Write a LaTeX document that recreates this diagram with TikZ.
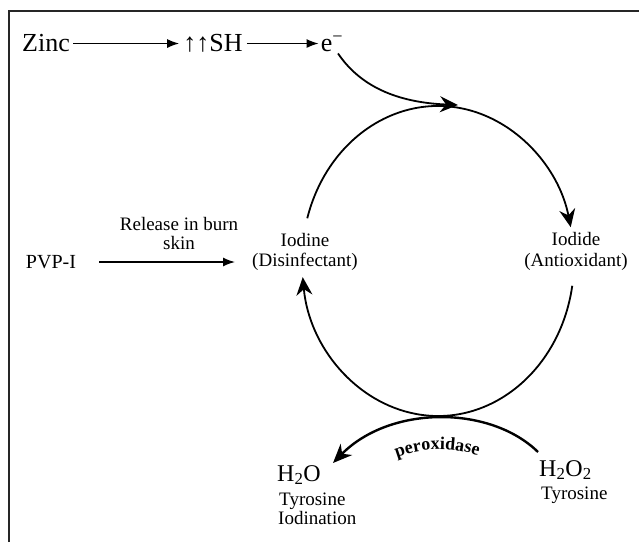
\documentclass[tikz,border=0pt]{standalone}
\usepackage{fontspec}
\setmainfont{Liberation Serif}
\usetikzlibrary{arrows.meta,decorations.text}
\begin{document}
\begin{tikzpicture}[x=1pt,y=1pt,
  lbl/.style={inner sep=1pt, font=\fontsize{19}{21}\selectfont, align=center},
  big/.style={inner sep=1pt, font=\fontsize{26}{28}\selectfont, anchor=base},
  chem/.style={inner sep=0pt, font=\fontsize{24}{26}\selectfont, anchor=base west},
  thinarr/.style={line width=1.5pt, -{Latex[length=12pt,width=9pt]}},
  cyc/.style={line width=1.8pt, -{Stealth[length=18pt,width=16pt,inset=6pt]}},
  perox/.style={line width=2.4pt, -{Stealth[length=19pt,width=16pt,inset=6pt]}},
]
\useasboundingbox (0,0) rectangle (639,542);
\draw[line width=1.6pt, black!85] (9,0) -- (9,531) -- (639,531);

% top row
\node[big] (zinc) at (46,490) {Zinc};
\node[big] (sh) at (213,490) {↑↑SH};
\node[big] (e) at (332,490) {e\textsuperscript{−}};
\draw[thinarr, shorten <=2pt, shorten >=3pt] (zinc.east) -- (zinc.east -| sh.west);
\draw[thinarr, shorten <=3pt, shorten >=1pt] (sh.east |- zinc.east) -- (zinc.east -| e.west);

% middle row
\node[lbl, font=\fontsize{20}{21}\selectfont] (pvp) at (51,280) {PVP-I};
\node[lbl, font=\fontsize{19}{19}\selectfont] (rel) at (179,308.5) {Release in burn\\skin};
\node[lbl, font=\fontsize{19}{20}\selectfont] (iodine) at (305,290) {Iodine\\(Disinfectant)};
\node[lbl] (iodide) at (576,291) {Iodide\\(Antioxidant)};
\draw[thinarr, shorten <=22pt, shorten >=16pt] (pvp.east) -- (pvp.east -| iodine.west);

% cycle
\coordinate (c) at (438,281);
\coordinate (top) at (458,437);
\draw[cyc] ([shift={(164:136 and 155)}]c) arc[start angle=164, end angle=12.6, x radius=136, y radius=155];
\draw[cyc] ([shift={(-9.2:136 and 155)}]c) arc[start angle=-9.2, end angle=-174, x radius=136, y radius=155];
\draw[cyc] ([xshift=6pt]e.south) .. controls +(27,-40) and +(-48,2) .. (top);

% bottom
\node[chem] (h2o) at (277,61) {H\textsubscript{2}O};
\node[lbl, anchor=base west, inner sep=0pt] (tyr1) at (279,37) {Tyrosine};
\node[lbl, anchor=base west, inner sep=0pt] (iodn) at (278,18) {Iodination};
\node[chem] (h2o2) at (539,66) {H\textsubscript{2}O\textsubscript{2}};
\node[lbl, anchor=base west, inner sep=0pt] (tyr2) at (541,43) {Tyrosine};
\coordinate (pa) at (538,90);
\coordinate (pb) at (333,79);
\draw[perox] (pa) .. controls (490,137) and (390,137) .. (pb);
\path[decorate, decoration={text along path, text align=center,
  text={|\fontsize{18}{18}\selectfont\bfseries|peroxidase}}]
  (388,81) .. controls (420,96) and (455,96) .. (487,83);
\end{tikzpicture}
\end{document}
